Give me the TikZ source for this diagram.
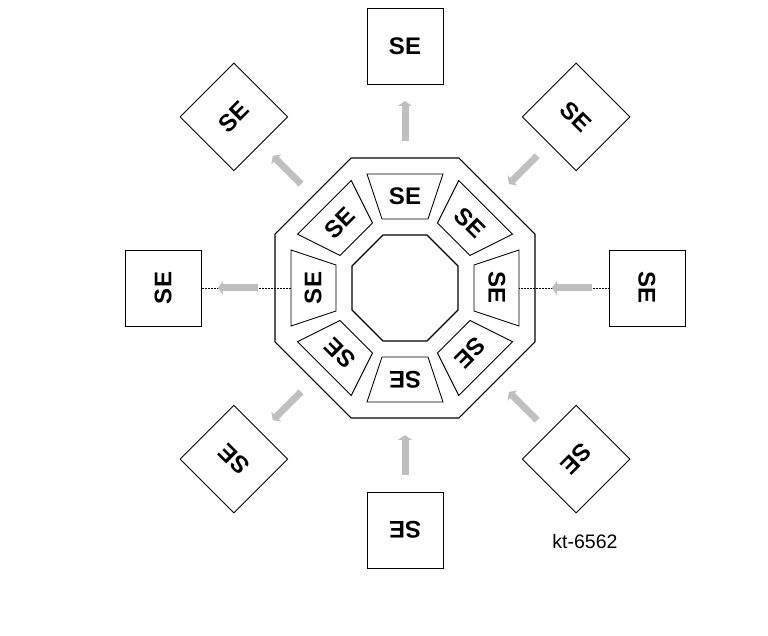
\documentclass[tikz,border=0pt]{standalone}
\usepackage{fontspec}
\setmainfont{Liberation Sans}
\usetikzlibrary{arrows.meta}

\begin{document}
\begin{tikzpicture}[
    x=1pt, y=1pt,
    ring/.style={draw, line width=1.1pt},
    segment/.style={draw, line width=0.9pt, fill=white},
    setext/.style={inner sep=0pt, font=\fontsize{24}{24}\selectfont\bfseries},
    unit/.style={
        draw, line width=0.9pt, fill=white,
        minimum size=76pt, inner sep=0pt,
        font=\fontsize{24}{24}\selectfont\bfseries
    },
    flow/.style={
        draw=gray!50, line width=7pt,
        -{Triangle[length=5pt, width=14pt]}
    },
    guide/.style={densely dotted, line width=0.5pt}
]
    \useasboundingbox (-405,-348) rectangle (363,288);

    % Octagon rings
    \draw [ring] (22.5:140.7) \foreach \k in {1,...,7} { -- (22.5+45*\k:140.7) } -- cycle;
    \draw [ring] (22.5:57.4) \foreach \k in {1,...,7} { -- (22.5+45*\k:57.4) } -- cycle;

    % Segments, units and flows
    \foreach \a/\d/\ra/\rb in {90/n/147/187, 45/ne/187/147, 0/e/187/147, -45/se/187/147,
                               -90/s/187/147, -135/sw/147/187, 180/w/147/187, 135/nw/147/187} {
        \begin{scope}[rotate=\a]
            \draw [segment] (114,38) -- (114,-38) -- (69,-23) -- (69,23) -- cycle;
        \end{scope}
        \node [setext, rotate=\a-90] (\d-seg) at (\a:92) {SE};
        \node [unit, rotate=\a-90] (\d) at (\a:242) {SE};
        \coordinate (\d-p) at (\a:\ra);
        \coordinate (\d-q) at (\a:\rb);
        \coordinate (\d-rim) at (\a:114);
    }

    % Guide lines
    \draw [guide] (w-rim) -- (w);
    \draw [guide] (e-rim) -- (e);

    \foreach \d in {n,ne,e,se,s,sw,w,nw}
        \draw [flow] (\d-p) -- (\d-q);

    \node [font=\fontsize{19.5}{20}\selectfont] (tag) at (180,-254) {kt-6562};

\end{tikzpicture}
\end{document}
